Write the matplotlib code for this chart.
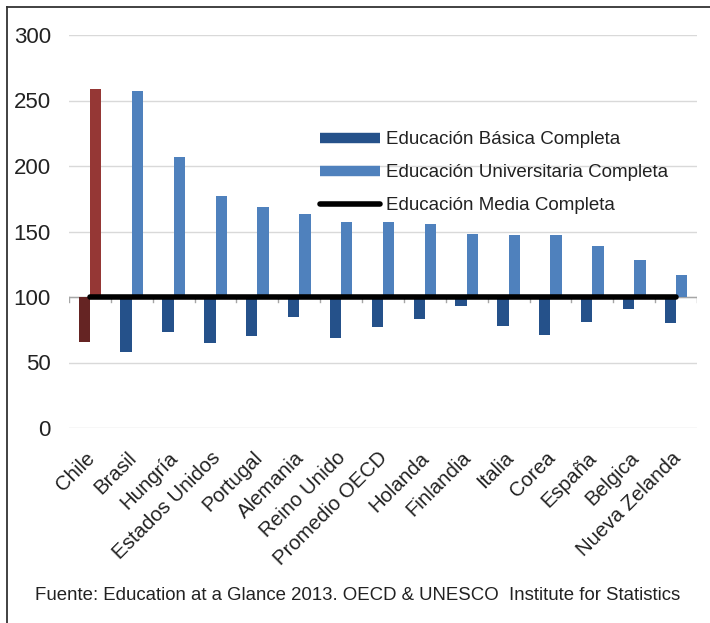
import numpy as np
import matplotlib
matplotlib.use('Agg')
import matplotlib.pyplot as plt
from matplotlib.lines import Line2D

plt.rcParams['font.family'] = ['Liberation Sans', 'DejaVu Sans']

paises = ['Chile', 'Brasil', 'Hungría', 'Estados Unidos', 'Portugal', 'Alemania',
          'Reino Unido', 'Promedio OECD', 'Holanda', 'Finlandia', 'Italia',
          'Corea', 'España', 'Belgica', 'Nueva Zelanda']
basica = [66, 58, 73, 65, 70, 85, 69, 77, 83, 93, 78, 71, 81, 91, 80]
universitaria = [259, 257, 207, 177, 169, 163, 157, 157, 156, 148, 147, 147, 139, 128, 117]
media = [100] * len(paises)
yticks = [0, 50, 100, 150, 200, 250, 300]

AZUL_OSCURO = '#25518A'
AZUL_CLARO = '#4F81BD'
ROJO = '#953735'
ROJO_OSCURO = '#652423'
TXT = '#222222'

fig = plt.figure(figsize=(7.10, 6.23), dpi=100)
ax = fig.add_axes([69 / 710, 1 - 428 / 623, 628 / 710, (428 - 35) / 623])

x = np.arange(len(paises))
w = 0.27
base = 100
col_b = [ROJO_OSCURO] + [AZUL_OSCURO] * (len(paises) - 1)
col_u = [ROJO] + [AZUL_CLARO] * (len(paises) - 1)

ax.bar(x - w / 2, np.array(basica) - base, bottom=base, width=w, color=col_b, zorder=3)
ax.bar(x + w / 2, np.array(universitaria) - base, bottom=base, width=w, color=col_u, zorder=3)
ax.plot(x, media, color='black', lw=4, solid_capstyle='round', zorder=4)

ax.set_xlim(-0.5, len(paises) - 0.5)
ax.set_ylim(0, 300)
ax.set_yticks(yticks)
ax.set_yticklabels([str(v) for v in yticks], fontsize=16, color=TXT)
ax.tick_params(axis='y', length=0, pad=13)
ax.grid(axis='y', color='#D9D9D9', lw=1, zorder=0)
for s in ['top', 'right', 'left', 'bottom']:
    ax.spines[s].set_visible(False)

# eje horizontal cruzando en 100, con marcas entre categorías
ax.axhline(base, color='#A6A6A6', lw=1, zorder=2)
for b in np.arange(-0.5, len(paises), 1.0):
    ax.plot([b, b], [base, base - 3.5], color='#A6A6A6', lw=1, zorder=2)

ax.set_xticks(x)
ax.set_xticklabels([])
ax.tick_params(axis='x', length=0)
for xi, nombre in zip(x, paises):
    ax.text(xi - 0.12, -15.5, nombre, rotation=45, ha='right', va='top',
            rotation_mode='anchor', fontsize=14.7, color=TXT)

handles = [
    Line2D([], [], color=AZUL_OSCURO, lw=7.5, solid_capstyle='butt'),
    Line2D([], [], color=AZUL_CLARO, lw=7.5, solid_capstyle='butt'),
    Line2D([], [], color='black', lw=4, solid_capstyle='round'),
]
labels = ['Educación Básica Completa', 'Educación Universitaria Completa',
          'Educación Media Completa']
leg = ax.legend(handles, labels, loc='upper left',
                bbox_to_anchor=((320 - 69) / 628, (428 - 131) / 393),
                frameon=False, fontsize=13.5, handlelength=3.2, handletextpad=0.3,
                labelspacing=0.85, borderpad=0, borderaxespad=0)
for t in leg.get_texts():
    t.set_color(TXT)

fig.text(35 / 710, 1 - 596 / 623,
         'Fuente: Education at a Glance 2013. OECD & UNESCO  Institute for Statistics',
         fontsize=13.4, color=TXT, va='center', ha='left')

# marco superior e izquierdo
fig.add_artist(Line2D([7 / 710, 7 / 710], [0, 1 - 7 / 623], color='#333333', lw=1.3))
fig.add_artist(Line2D([7 / 710, 1], [1 - 7 / 623, 1 - 7 / 623], color='#333333', lw=1.3))

fig.savefig('out.png', dpi=100)
